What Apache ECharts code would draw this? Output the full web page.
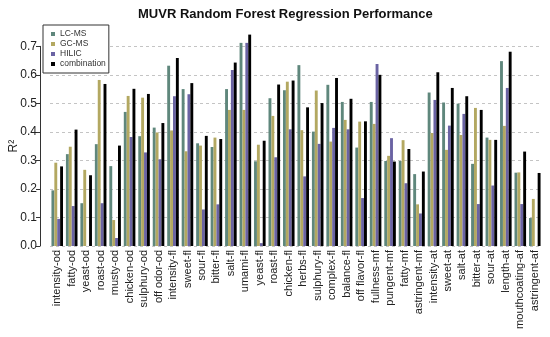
<!DOCTYPE html>
<html>
<head>
<meta charset="utf-8">
<script src="https://cdn.jsdelivr.net/npm/echarts@6/dist/echarts.min.js"></script>
<style>html,body{margin:0;padding:0;background:#fff;}#c{width:550px;height:337px;}</style>
</head>
<body>
<div id="c"></div>
<script>
var categories = ['intensity-od','fatty-od','yeast-od','roast-od','musty-od','chicken-od','sulphury-od','off odor-od',
  'intensity-fl','sweet-fl','sour-fl','bitter-fl','salt-fl','umami-fl','yeast-fl','roast-fl','chicken-fl','herbs-fl',
  'sulphury-fl','complex-fl','balance-fl','off flavor-fl','fullness-mf','pungent-mf','fatty-mf','astringent-mf',
  'intensity-at','sweet-at','salt-at','bitter-at','sour-at','length-at','mouthcoating-af','astringent-af'];
var lcms = [0.195,0.322,0.150,0.357,0.280,0.470,0.385,0.415,
  0.632,0.550,0.360,0.347,0.550,0.712,0.297,0.518,0.546,0.634,
  0.401,0.565,0.505,0.345,0.505,0.298,0.298,0.252,
  0.538,0.503,0.499,0.288,0.380,0.648,0.257,0.098];
var gcms = [0.292,0.348,0.267,0.582,0.091,0.526,0.520,0.398,
  0.405,0.332,0.352,0.380,0.477,0.477,0.355,0.456,0.576,0.406,
  0.545,0.366,0.442,0.436,0.428,0.316,0.371,0.146,
  0.396,0.337,0.389,0.484,0.372,0.421,0.258,0.165];
var hilic = [0.095,0.140,0.000,0.150,0.028,0.382,0.328,0.304,
  0.525,0.532,0.128,0.146,0.617,0.712,0.010,0.311,0.409,0.244,
  0.358,0.414,0.409,0.168,0.638,0.378,0.220,0.114,
  0.512,0.422,0.463,0.147,0.212,0.554,0.147,0.000];
var combination = [0.279,0.408,0.248,0.568,0.352,0.551,0.533,0.431,
  0.659,0.571,0.386,0.375,0.643,0.741,0.369,0.566,0.580,0.486,
  0.501,0.589,0.516,0.437,0.600,0.296,0.340,0.261,
  0.609,0.554,0.525,0.477,0.372,0.681,0.331,0.256];
var yTicks = ['0.0','0.1','0.2','0.3','0.4','0.5','0.6','0.7'];

var chart = echarts.init(document.getElementById('c'), null, {renderer:'canvas'});
function bar(name, data, color){
  return {name:name, type:'bar', data:data, clip:false, barGap:'0%', barCategoryGap:'20%',
    itemStyle:{color:color}, emphasis:{disabled:true}};
}
chart.setOption({
  animation:false,
  backgroundColor:'#fff',
  title:{text:'MUVR Random Forest Regression Performance', left:133, top:3,
    textStyle:{fontFamily:'Liberation Sans, Arial, sans-serif', fontSize:13, fontWeight:'bold', color:'#111'}},
  legend:{orient:'vertical', left:43, top:25, itemWidth:4, itemHeight:4, itemGap:0,
    padding:[4,3,4,8], backgroundColor:'#fff', borderColor:'#333', borderWidth:1,
    textStyle:{fontFamily:'Liberation Sans, Arial, sans-serif', fontSize:8.5, lineHeight:10, color:'#333'},
    data:['LC-MS','GC-MS','HILIC','combination'], icon:'rect', z:10},
  grid:{left:50, right:8, top:46.3, bottom:91, containLabel:false, outerBoundsMode:'none'},
  xAxis:{type:'category', data:categories,
    axisLine:{show:false}, axisTick:{show:false},
    axisLabel:{rotate:90, interval:0, margin:4, fontSize:11, color:'#222',
      fontFamily:'Liberation Sans, Arial, sans-serif'}},
  yAxis:{type:'value', min:0, max:0.7, interval:0.1, offset:10,
    name:'R\u00B2', nameLocation:'middle', nameGap:20, nameRotate:90, nameMoveOverlap:false,
    nameTextStyle:{fontSize:12, color:'#222', fontFamily:'Liberation Sans, Arial, sans-serif'},
    axisLine:{show:true, lineStyle:{color:'#333', width:1}},
    axisTick:{show:true, length:4, lineStyle:{color:'#333'}},
    axisLabel:{margin:3, fontSize:12, color:'#222', fontFamily:'Liberation Sans, Arial, sans-serif',
      formatter:function(v){ var i=Math.round(v*10); return yTicks[i]!==undefined?yTicks[i]:''; }},
    splitLine:{show:true, lineStyle:{color:'#c4c4c4', type:[3,3], width:1}}},
  series:[
    bar('LC-MS', lcms, '#5f877c'),
    bar('GC-MS', gcms, '#b3a861'),
    bar('HILIC', hilic, '#6a63a3'),
    bar('combination', combination, '#000000')
  ]
});
</script>
</body>
</html>
